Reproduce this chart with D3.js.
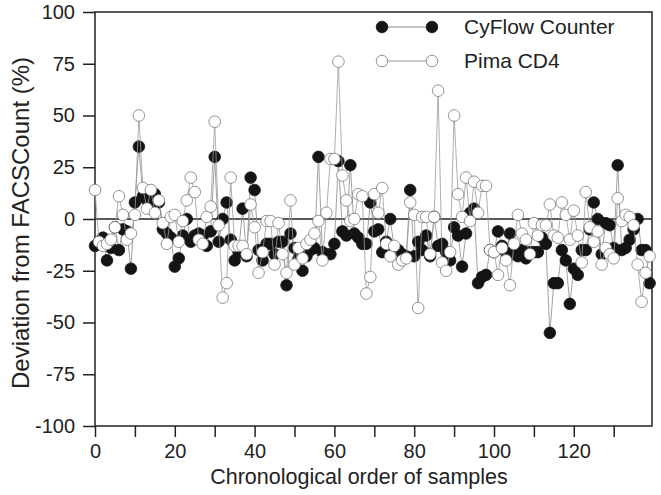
<!DOCTYPE html>
<html>
<head>
<meta charset="utf-8">
<script src="https://cdn.jsdelivr.net/npm/d3@7/dist/d3.min.js"></script>
<style>
  body { margin: 0; background: #fff; }
  text { font-family: "Liberation Sans", Arial, sans-serif; fill: #222; }
</style>
</head>
<body>
<svg id="chart" width="661" height="495"></svg>
<script>
// deviation from FACSCount (%), one value per sample, in chronological order
var cyflow = [-13,-11,-9,-20,-14,-4,-15,-5,-6,-24,8,35,11,9,8,12,8,-5,-7,-9,
  -23,-19,-8,0,-11,-8,-7,-8,-13,-6,30,-11,0,8,-10,-20,-16,5,-18,20,
  14,-15,-20,-12,-12,-17,-11,-11,-32,-7,-14,-19,-25,-18,-15,-14,30,-16,-17,-17,
  -12,28,-6,-8,26,-7,-9,-12,-12,8,-6,-5,-16,-11,0,-14,-15,-17,-18,14,
  -18,-11,-15,-8,-18,1,-13,-12,-16,-20,-4,-8,-23,-7,3,5,-31,-28,-27,-15,
  -16,-6,-13,-16,-7,-17,-18,-15,-19,-16,-16,-16,-9,-12,-55,-31,-31,-15,-20,-41,
  -24,-27,-15,-15,-5,8,0,-17,-2,-3,-14,26,-15,-14,-10,-5,0,-15,-15,-31];

var pima = [14,-11,-13,-12,-10,-4,11,2,-10,-7,2,50,15,5,14,3,9,-2,-12,1,
  2,-11,-1,9,20,13,-10,-12,1,6,47,-3,-38,-31,20,-13,-13,-13,-17,7,
  -4,-26,-16,-1,-1,-22,-2,-17,-26,9,-22,-14,-19,-12,-10,-7,-1,-20,3,29,
  29,76,21,9,-1,0,12,11,-36,-28,12,3,15,-12,-18,-13,-22,-20,-19,8,
  2,-43,1,1,-17,1,62,-21,-25,-16,50,12,1,20,-1,18,3,16,16,-15,
  -16,-27,-14,-20,-32,-12,2,-7,-10,-17,-2,-8,-3,-3,7,-8,-9,8,2,-10,
  4,-8,-21,13,-4,-11,-6,-22,-14,-17,-19,10,-1,2,1,-3,-22,-40,-26,-18];

var yTicks = [-100, -75, -50, -25, 0, 25, 50, 75, 100];
var xTicks = [0, 10, 20, 30, 40, 50, 60, 70, 80, 90, 100, 110, 120, 130];
var xLabels = [0, 20, 40, 60, 80, 100, 120];
var seriesNames = ["CyFlow Counter", "Pima CD4"];

var margin = {top: 12, right: 9, bottom: 69, left: 95},
    width = 661 - margin.left - margin.right,
    height = 495 - margin.top - margin.bottom;

var x = d3.scaleLinear().domain([0, 139.6]).range([0, width]);
var y = d3.scaleLinear().domain([-100, 100]).range([height, 0]);

var svg = d3.select("#chart")
  .append("g")
    .attr("transform", "translate(" + margin.left + "," + margin.top + ")");

// frame
svg.append("rect")
    .attr("width", width)
    .attr("height", height)
    .attr("fill", "none")
    .attr("stroke", "#222")
    .attr("stroke-width", 1.5);

var yAxis = d3.axisLeft(y)
    .tickValues(yTicks)
    .tickSize(12)
    .tickPadding(8)
    .tickFormat(function(d) { return String(d); });

var xAxis = d3.axisBottom(x)
    .tickValues(xTicks)
    .tickSize(11)
    .tickPadding(7)
    .tickFormat(function(d) { return xLabels.indexOf(d) >= 0 ? String(d) : ""; });

svg.append("g")
    .attr("class", "y axis")
    .call(yAxis);

svg.append("g")
    .attr("class", "x axis")
    .attr("transform", "translate(0," + height + ")")
    .call(xAxis);

svg.selectAll(".axis path").remove();
svg.selectAll(".axis line").attr("stroke", "#222").attr("stroke-width", 1.5);
svg.selectAll(".axis text").attr("font-size", "20px").attr("fill", "#222")
    .attr("font-family", "Liberation Sans, Arial, sans-serif");

// zero line
svg.append("line")
    .attr("x1", 0).attr("x2", width)
    .attr("y1", y(0)).attr("y2", y(0))
    .attr("stroke", "#222")
    .attr("stroke-width", 1.5);

// axis titles
svg.append("text")
    .attr("x", 264)
    .attr("y", height + 58)
    .attr("text-anchor", "middle")
    .attr("font-size", "21.5px")
    .text("Chronological order of samples");

svg.append("text")
    .attr("transform", "translate(" + (-66) + "," + (height / 2 + 4) + ") rotate(-90)")
    .attr("text-anchor", "middle")
    .attr("font-size", "24px")
    .text("Deviation from FACSCount (%)");

var line = d3.line()
    .x(function(d, i) { return x(i); })
    .y(function(d) { return y(d); });

function drawSeries(data, fill, stroke, lineColor) {
  svg.append("path")
      .datum(data)
      .attr("fill", "none")
      .attr("stroke", lineColor)
      .attr("stroke-width", 0.8)
      .attr("d", line);

  svg.append("g").selectAll("circle")
      .data(data)
    .enter().append("circle")
      .attr("cx", function(d, i) { return x(i); })
      .attr("cy", function(d) { return y(d); })
      .attr("r", 5.8)
      .attr("fill", fill)
      .attr("stroke", stroke)
      .attr("stroke-width", 0.8);
}

drawSeries(cyflow, "#141414", "#141414", "#8a8a8a");
drawSeries(pima, "#fff", "#777", "#9a9a9a");

// legend
var legend = svg.append("g")
    .attr("transform", "translate(" + (x(0) + 287) + ",15)");

var legendRows = legend.selectAll("g")
    .data(seriesNames)
  .enter().append("g")
    .attr("transform", function(d, i) { return "translate(0," + (i * 34) + ")"; });

legendRows.append("line")
    .attr("x1", 0).attr("x2", 50)
    .attr("stroke", function(d, i) { return i === 0 ? "#8a8a8a" : "#9a9a9a"; })
    .attr("stroke-width", 1);

legendRows.selectAll("circle")
    .data(function(d, i) { return [[0, i], [50, i]]; })
  .enter().append("circle")
    .attr("cx", function(d) { return d[0]; })
    .attr("r", 5.8)
    .attr("fill", function(d) { return d[1] === 0 ? "#141414" : "#fff"; })
    .attr("stroke", function(d) { return d[1] === 0 ? "#141414" : "#777"; })
    .attr("stroke-width", 0.8);

legendRows.append("text")
    .attr("x", 82)
    .attr("dy", "0.35em")
    .attr("font-size", "21px")
    .text(function(d) { return d; });
</script>
</body>
</html>
